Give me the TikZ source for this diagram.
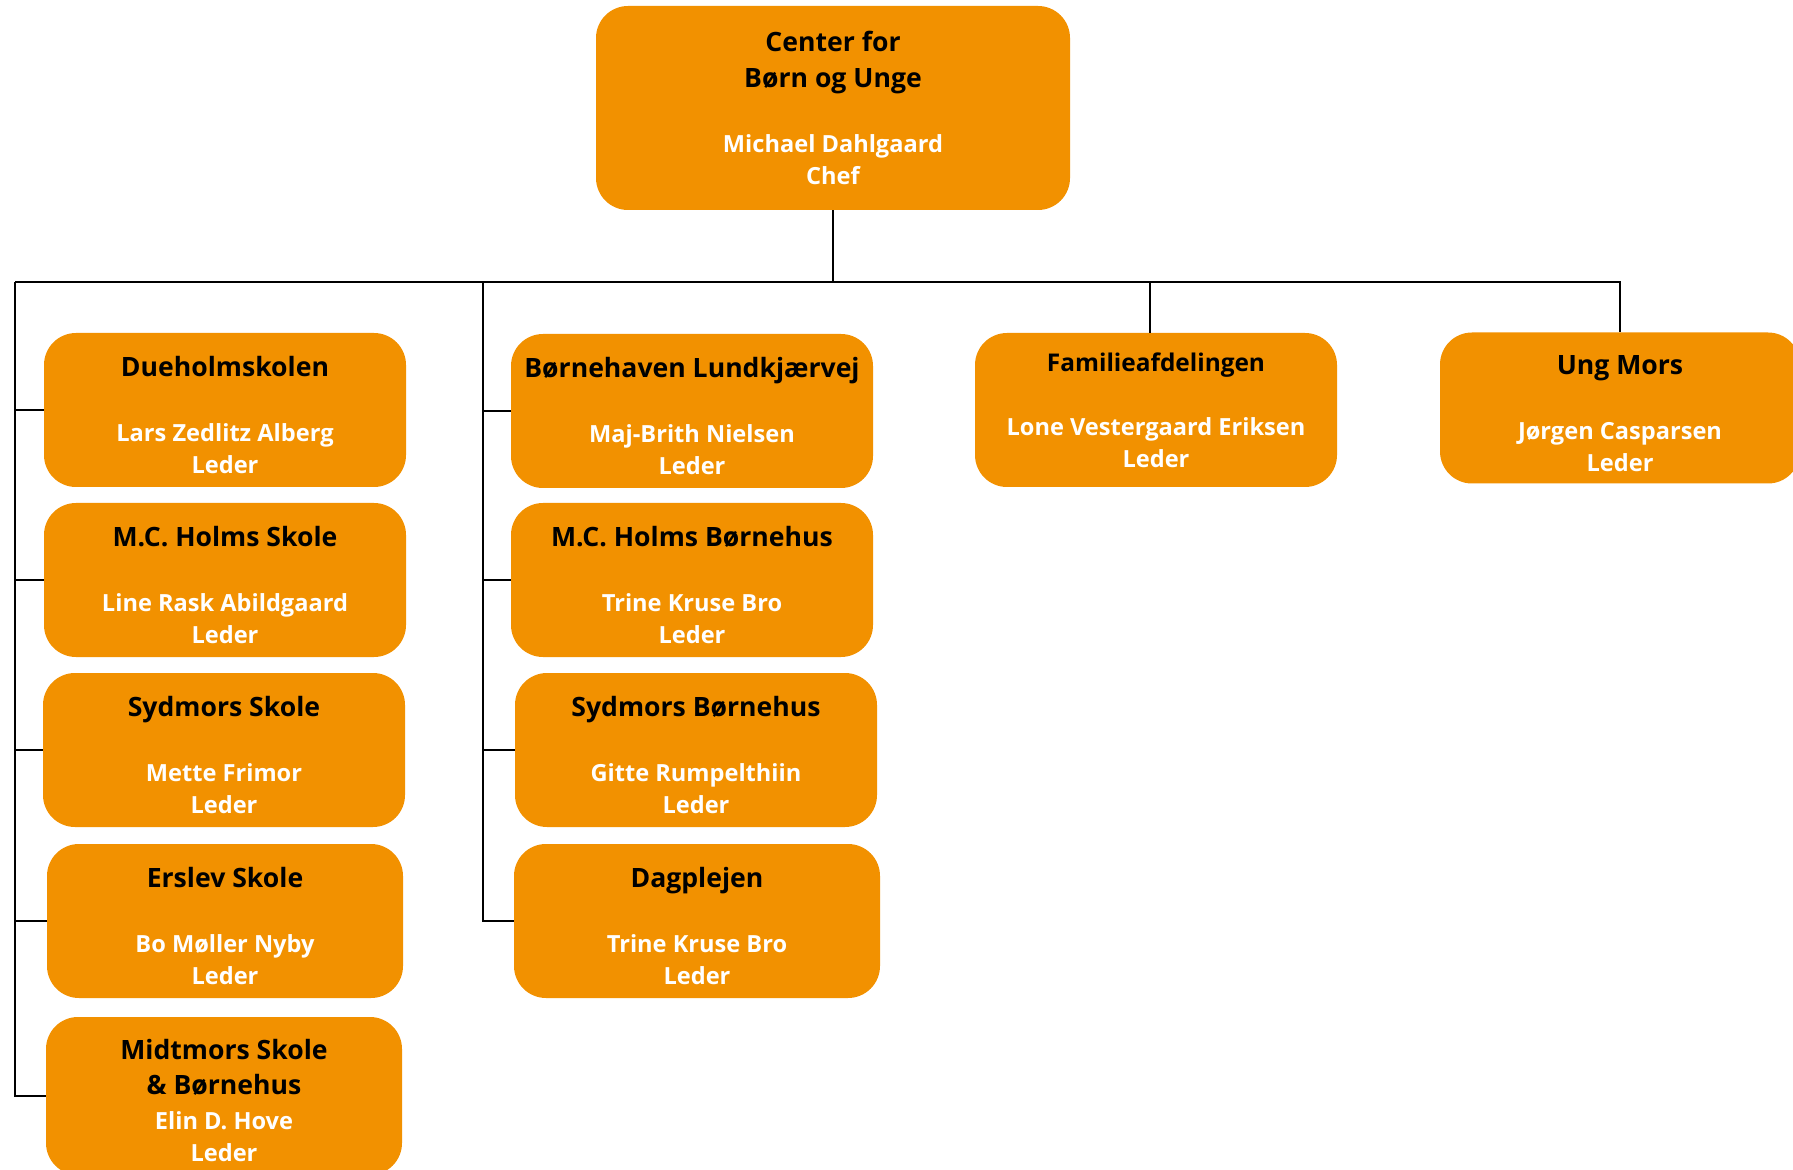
\documentclass[tikz,border=0pt]{standalone}
\usepackage{fontspec}
\setmainfont{Open Sans}
\usepackage{xcolor}
\usepackage{tikz}
\usetikzlibrary{calc}
\definecolor{boxorange}{RGB}{242,145,0}
\tikzset{
    orgbox/.style={%
        fill=boxorange, draw=none, rounded corners=16pt,
        minimum width=181pt, minimum height=77pt,
        align=center, text=white, inner sep=0pt,
        font=\bfseries\fontsize{11.8}{16}\selectfont
    },
    link/.style={draw=black, line width=0.8pt}
}
% titles; \hd carries a strut that lowers the text block a little
\newcommand{\hdx}[1]{{\color{black}\fontsize{13.3}{16}\selectfont #1}}
\newcommand{\hd}[1]{\rule{0pt}{14.8pt}\hdx{#1}}
\newcommand{\hds}[1]{{\color{black}\fontsize{12.2}{16}\selectfont #1}}

\begin{document}
\begin{tikzpicture}[x=0.5pt, y=-0.5pt]
        \useasboundingbox (0,0) rectangle (1793,1170);

        % top
        \draw (833,108) node[orgbox, minimum width=237pt, minimum height=102pt](cbu)
            {\hdx{Center for}\\[1.75pt]\hdx{Børn og Unge}\\[16.5pt]Michael Dahlgaard\\Chef};

        % first column
        \draw (225,410) node[orgbox](due){\hd{Dueholmskolen}\\[16.5pt]Lars Zedlitz Alberg\\Leder};
        \draw (225,580) node[orgbox](mcs){\hd{M.C. Holms Skole}\\[16.5pt]Line Rask Abildgaard\\Leder};
        \draw (224,750) node[orgbox](syd){\hd{Sydmors Skole}\\[16.5pt]Mette Frimor\\Leder};
        \draw (225,921) node[orgbox, minimum width=178pt](ers){\hd{Erslev Skole}\\[16.5pt]Bo Møller Nyby\\Leder};
        \draw (224,1096) node[orgbox, minimum width=178pt, minimum height=79pt](mid)
            {\hd{Midtmors Skole}\\[1.5pt]\hdx{\& Børnehus}\\[1.25pt]Elin D. Hove\\Leder};

        % second column
        \draw (692,411) node[orgbox](bhl){\hd{Børnehaven Lundkjærvej}\\[16.5pt]Maj-Brith Nielsen\\Leder};
        \draw (692,580) node[orgbox](mcb){\hd{M.C. Holms Børnehus}\\[16.5pt]Trine Kruse Bro\\Leder};
        \draw (696,750) node[orgbox](sbh){\hd{Sydmors Børnehus}\\[16.5pt]Gitte Rumpelthiin\\Leder};
        \draw (697,921) node[orgbox, minimum width=183pt](dag){\hd{Dagplejen}\\[16.5pt]Trine Kruse Bro\\Leder};

        % right
        \draw (1156,410) node[orgbox](fam){\hds{Familieafdelingen}\\[16pt]Lone Vestergaard Eriksen\\Leder};
        \draw (1620,408) node[orgbox, minimum width=180pt, minimum height=75.5pt](ung){\hd{Ung Mors}\\[16.5pt]Jørgen Casparsen\\Leder};

        \coordinate (busL) at (15,282);
        \coordinate (col2) at (483,282);

        \draw[link] (cbu.south) -- (cbu.south |- busL);
        \draw[link] (busL) -- (ung.north |- busL) -- (ung.north);
        \draw[link] ([xshift=-3pt]fam.north |- busL) -- ([xshift=-3pt]fam.north);

        \draw[link] (busL) |- (mid.west);
        \foreach \n in {due,mcs,syd,ers}
            \draw[link] (busL |- \n.west) -- (\n.west);

        \draw[link] (col2) |- (dag.west);
        \foreach \n in {bhl,mcb,sbh}
            \draw[link] (col2 |- \n.west) -- (\n.west);
    \end{tikzpicture}
\end{document}
